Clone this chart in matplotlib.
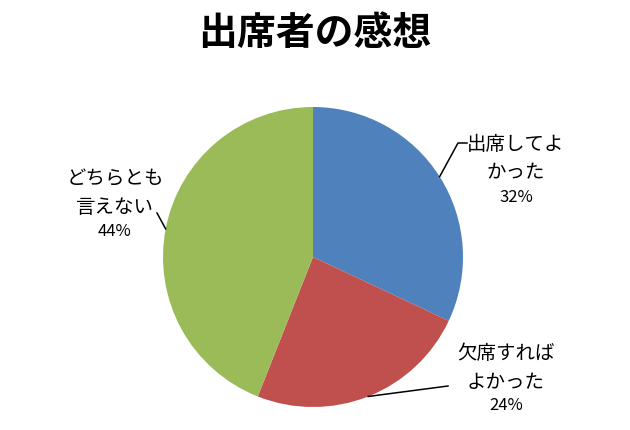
import numpy as np
import matplotlib
matplotlib.use("Agg")
import matplotlib.pyplot as plt

plt.rcParams['font.family'] = ['Noto Sans CJK JP', 'DejaVu Sans']

# data
title = "出席者の感想"
labels = ["出席してよ\nかった", "欠席すれば\nよかった", "どちらとも\n言えない"]
shares = [32, 24, 44]
colors = ["#4F81BD", "#C0504D", "#9BBB59"]

# layout in pixel units (y measured from bottom)
W, H = 630, 430
center = (313, H - 257)
radius = 150
label_pos = [(516, H - 171), (506, H - 380), (115, H - 205)]
elbow = [(458, H - 143), (448, H - 386), (157, H - 213)]
line_end = [(467, H - 143), None, None]

fig = plt.figure(figsize=(6.3, 4.3), dpi=100)
ax = fig.add_axes([0, 0, 1, 1])
wedges, _ = ax.pie(shares, colors=colors, startangle=90, counterclock=False,
                   center=center, radius=radius, wedgeprops=dict(linewidth=0))
ax.set_xlim(0, W)
ax.set_ylim(0, H)
ax.set_aspect("equal")
ax.axis("off")

for w, lab, val, pos, el, end in zip(wedges, labels, shares, label_pos, elbow, line_end):
    # leader line from the wedge's outer edge midpoint
    mid = np.deg2rad((w.theta1 + w.theta2) / 2)
    edge = (center[0] + radius * np.cos(mid), center[1] + radius * np.sin(mid))
    xs = [edge[0], el[0]]
    ys = [edge[1], el[1]]
    if end is not None:
        xs.append(end[0])
        ys.append(end[1])
    ax.plot(xs, ys, color="black", lw=1.1)
    ax.text(pos[0], pos[1] + 12, lab, ha="center", va="center", fontsize=14,
            linespacing=1.45, color="black")
    ax.text(pos[0], pos[1] - 26, f"{val}%", ha="center", va="center",
            fontsize=12, color="black")

fig.text(0.5, 1 - 33 / H, title, ha="center", va="center", fontsize=28,
         fontweight="bold")

fig.savefig("out.png", dpi=100)
